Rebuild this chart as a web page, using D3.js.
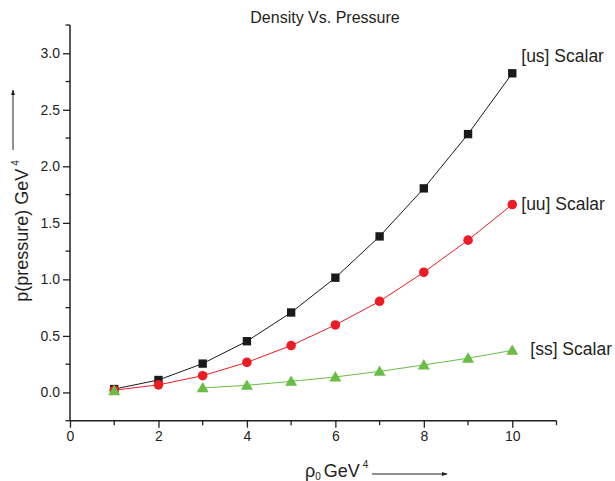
<!DOCTYPE html>
<html><head><meta charset="utf-8">
<script src="https://cdn.jsdelivr.net/npm/d3@7"></script>
<style>body{margin:0;background:#fff;} text{font-family:"Liberation Sans",Arial,sans-serif;fill:#231f20;}</style>
</head><body>
<svg id="c" width="615" height="481"></svg>
<script>
const xs = [1,2,3,4,5,6,7,8,9,10];
const usVals = [0.03,0.11,0.255,0.453,0.707,1.015,1.38,1.805,2.285,2.823];
const uuVals = [0.02,0.067,0.148,0.266,0.415,0.597,0.806,1.063,1.347,1.662];
const ssX = [3,4,5,6,7,8,9,10];
const ssVals = [0.04,0.063,0.098,0.137,0.186,0.243,0.303,0.372];
const ssExtraX = [1];
const ssExtraVals = [0.015];
const xTicks = [0,2,4,6,8,10];
const yTicks = [0.0,0.5,1.0,1.5,2.0,2.5,3.0];
const seriesLabels = ["[us] Scalar","[uu] Scalar","[ss] Scalar"];

(function(){
const svg = d3.select("#c");
const mL=70, mR=556.5, mT=25, mB=420.7;
const x = d3.scaleLinear().domain([0,11]).range([mL,mR]);
const y = d3.scaleLinear().domain([-0.25,3.25]).range([mB,mT]);
const ink="#231f20";

// axes
const xAxis = d3.axisBottom(x).tickValues(xTicks).tickFormat(d3.format("d")).tickSize(7).tickPadding(3);
const gx = svg.append("g").attr("transform",`translate(0,${mB})`).call(xAxis);
gx.append("g").selectAll("line").data(d3.range(1,12,2)).join("line")
  .attr("x1",d=>x(d)).attr("x2",d=>x(d)).attr("y1",0).attr("y2",4.5).attr("stroke",ink).attr("stroke-width",1.3);
const yAxis = d3.axisLeft(y).tickValues(yTicks).tickFormat(d3.format(".1f")).tickSize(7).tickPadding(3);
const gy = svg.append("g").attr("transform",`translate(${mL},0)`).call(yAxis);
gy.append("g").selectAll("line").data([-0.25,0.25,0.75,1.25,1.75,2.25,2.75,3.25]).join("line")
  .attr("y1",d=>y(d)).attr("y2",d=>y(d)).attr("x1",0).attr("x2",-4.5).attr("stroke",ink).attr("stroke-width",1.3);
[gx,gy].forEach(g=>{
  g.select(".domain").attr("stroke",ink).attr("stroke-width",1.5);
  g.selectAll(".tick line").attr("stroke",ink).attr("stroke-width",1.3);
  g.selectAll(".tick text").attr("font-size",14).attr("font-family","Liberation Sans, Arial, sans-serif").attr("fill",ink);
});
gx.select(".domain").attr("d",`M${mL},0H${mR}`);
gy.select(".domain").attr("d",`M0,${mB}V${mT}`);

const line = d3.line().x(d=>x(d[0])).y(d=>y(d[1]));
const usD = xs.map((v,i)=>[v,usVals[i]]);
const uuD = xs.map((v,i)=>[v,uuVals[i]]);
const ssD = ssX.map((v,i)=>[v,ssVals[i]]);
const ssE = ssExtraX.map((v,i)=>[v,ssExtraVals[i]]);
const cUS="#1a1a1a", cUU="#ec1c24", cSS="#6abd45";
svg.append("path").datum(usD).attr("d",line).attr("fill","none").attr("stroke",cUS).attr("stroke-width",1);
svg.append("path").datum(uuD).attr("d",line).attr("fill","none").attr("stroke",cUU).attr("stroke-width",1);
svg.append("path").datum(ssD).attr("d",line).attr("fill","none").attr("stroke",cSS).attr("stroke-width",1);

const sq = d3.symbol().type(d3.symbolSquare).size(70);
const ci = d3.symbol().type(d3.symbolCircle).size(72);
const tri = d3.symbol().type(d3.symbolTriangle).size(62);
svg.append("g").selectAll("path").data(usD).join("path").attr("d",sq)
  .attr("transform",d=>`translate(${x(d[0])},${y(d[1])})`).attr("fill",cUS);
svg.append("g").selectAll("path").data(uuD).join("path").attr("d",ci)
  .attr("transform",d=>`translate(${x(d[0])},${y(d[1])})`).attr("fill",cUU);
svg.append("g").selectAll("path").data(ssD.concat(ssE)).join("path").attr("d",tri)
  .attr("transform",d=>`translate(${x(d[0])},${y(d[1])+1})`).attr("fill",cSS);

// series labels
const lastPts = [usD[usD.length-1], uuD[uuD.length-1], ssD[ssD.length-1]];
const lblOff = [[9,-17],[9,-1],[18,-2]];
svg.append("g").selectAll("text").data(seriesLabels).join("text")
  .attr("x",(d,i)=>x(lastPts[i][0])+lblOff[i][0])
  .attr("y",(d,i)=>y(lastPts[i][1])+lblOff[i][1])
  .attr("dy","0.35em").attr("font-size",17.5).text(d=>d);

// title
svg.append("text").attr("x",325).attr("y",23).attr("text-anchor","middle").attr("font-size",16).text("Density Vs. Pressure");

// y label
const yl = svg.append("text").attr("transform","translate(28,231) rotate(-90)").attr("text-anchor","middle").attr("font-size",18);
yl.append("tspan").text("p(pressure) GeV");
yl.append("tspan").attr("font-size",10).attr("dy",-9).attr("dx",3).text("4");
svg.append("defs").append("marker").attr("id","ah").attr("viewBox","0 0 10 10").attr("refX",9).attr("refY",5)
  .attr("markerWidth",6).attr("markerHeight",6).attr("orient","auto")
  .append("path").attr("d","M0,1.5L10,5L0,8.5z").attr("fill",ink);
svg.append("line").attr("x1",13).attr("x2",13).attr("y1",150).attr("y2",90).attr("stroke",ink).attr("stroke-width",1).attr("marker-end","url(#ah)");

// x label
const xl = svg.append("text").attr("x",305).attr("y",477).attr("font-size",18);
xl.append("tspan").text("ρ");
xl.append("tspan").attr("font-size",10).attr("dy",3).text("0");
xl.append("tspan").attr("dy",-3).attr("dx",3).text("GeV");
xl.append("tspan").attr("font-size",10).attr("dy",-9).attr("dx",3).text("4");
svg.append("line").attr("x1",372).attr("x2",447).attr("y1",474).attr("y2",474).attr("stroke",ink).attr("stroke-width",1).attr("marker-end","url(#ah)");
})();
</script>
</body></html>
